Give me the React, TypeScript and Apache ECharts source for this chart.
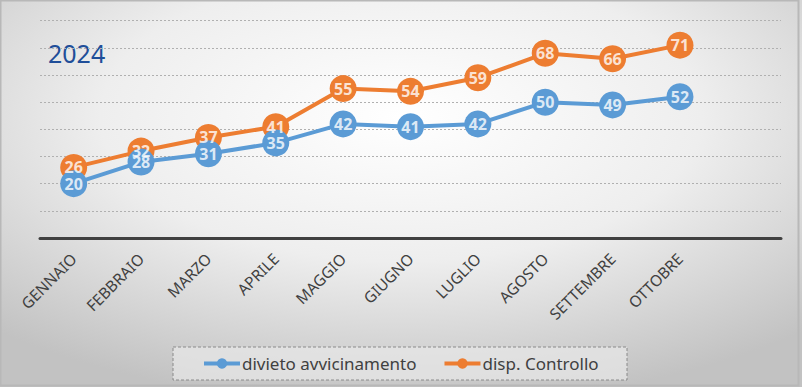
import React, { useEffect, useRef } from "react";
import * as echarts from "echarts";

const months = [
  "GENNAIO", "FEBBRAIO", "MARZO", "APRILE", "MAGGIO", "GIUGNO",
  "LUGLIO", "AGOSTO", "SETTEMBRE", "OTTOBRE", "",
];
const divieto = [20, 28, 31, 35, 42, 41, 42, 50, 49, 52, null];
const controllo = [26, 32, 37, 41, 55, 54, 59, 68, 66, 71, null];
const seriesNames = ["divieto avvicinamento", "disp. Controllo"];
const title = "2024";

const FONT = "'Noto Sans', 'Open Sans', sans-serif";
const BLUE = "#5B9BD5";
const ORANGE = "#ED7D31";

export default function App() {
  const ref = useRef<HTMLDivElement>(null);
  useEffect(() => {
    document.body.style.margin = "0";
    const chart = echarts.init(ref.current!, null, { renderer: "svg" });
    const labelStyle = {
      show: true,
      position: "inside" as const,
      color: "#ffffff",
      fontSize: 16,
      fontFamily: FONT,
      fontWeight: "bold" as const,
    };
    const labelSeries = (data: (number | null)[]) => ({
      type: "scatter",
      data,
      symbol: "circle",
      symbolSize: 1,
      itemStyle: { color: "rgba(0,0,0,0)" },
      label: labelStyle,
      z: 10,
      silent: true,
      legendHoverLink: false,
    });
    chart.setOption({
      animation: false,
      backgroundColor: {
        type: "radial",
        x: 0.5,
        y: 0.3,
        r: 0.75,
        colorStops: [
          { offset: 0, color: "#ffffff" },
          { offset: 0.5, color: "#eeeeee" },
          { offset: 1, color: "#c2c2c2" },
        ],
      },
      graphic: [
        {
          type: "rect",
          shape: { x: 0.5, y: 0.5, width: 798, height: 385 },
          style: { fill: "none", stroke: "#b8b8b8", lineWidth: 2 },
          z: 100,
        },
        {
          type: "rect",
          shape: { x: 173, y: 347, width: 454, height: 33 },
          style: {
            fill: "rgba(232,232,232,0.7)",
            stroke: "#8a8a8a",
            lineWidth: 1,
            lineDash: [3, 2],
          },
          z: -1,
        },
        {
          type: "text",
          x: 48,
          y: 53,
          style: {
            text: title,
            fontSize: 25,
            fontFamily: FONT,
            fill: "#1f4e99",
            verticalAlign: "middle",
          },
        },
      ],
      grid: { left: 40, right: 21, top: 20.7, bottom: 149, containLabel: false },
      legend: {
        left: 202,
        top: 355,
        padding: 0,
        itemWidth: 36,
        itemHeight: 13,
        itemGap: 26,
        lineStyle: { width: 4 },
        textStyle: { fontSize: 17, fontFamily: FONT, color: "#404040", padding: [0, 0, 0, -3] },
        data: seriesNames,
      },
      xAxis: {
        type: "category",
        data: months,
        boundaryGap: true,
        axisTick: { show: false },
        axisLine: { lineStyle: { color: "#404040", width: 3 } },
        axisLabel: {
          interval: 0,
          rotate: 45,
          fontSize: 15.5,
          fontFamily: FONT,
          color: "#404040",
          margin: 18,
        },
        splitLine: { show: false },
      },
      yAxis: {
        type: "value",
        min: 0,
        max: 80,
        interval: 10,
        axisLabel: { show: false },
        axisLine: { show: false },
        axisTick: { show: false },
        splitLine: { lineStyle: { color: "#b0b0b0", type: [2, 2], width: 1 } },
      },
      series: [
        {
          name: seriesNames[1],
          type: "line",
          data: controllo,
          color: ORANGE,
          lineStyle: { width: 4 },
          symbol: "circle",
          symbolSize: 27,
          z: 2,
        },
        {
          name: seriesNames[0],
          type: "line",
          data: divieto,
          color: BLUE,
          lineStyle: { width: 4 },
          symbol: "circle",
          symbolSize: 27,
          z: 3,
        },
        labelSeries(divieto),
        labelSeries(controllo),
      ],
    });
    return () => chart.dispose();
  }, []);
  return <div ref={ref} style={{ width: 802, height: 387 }} />;
}
